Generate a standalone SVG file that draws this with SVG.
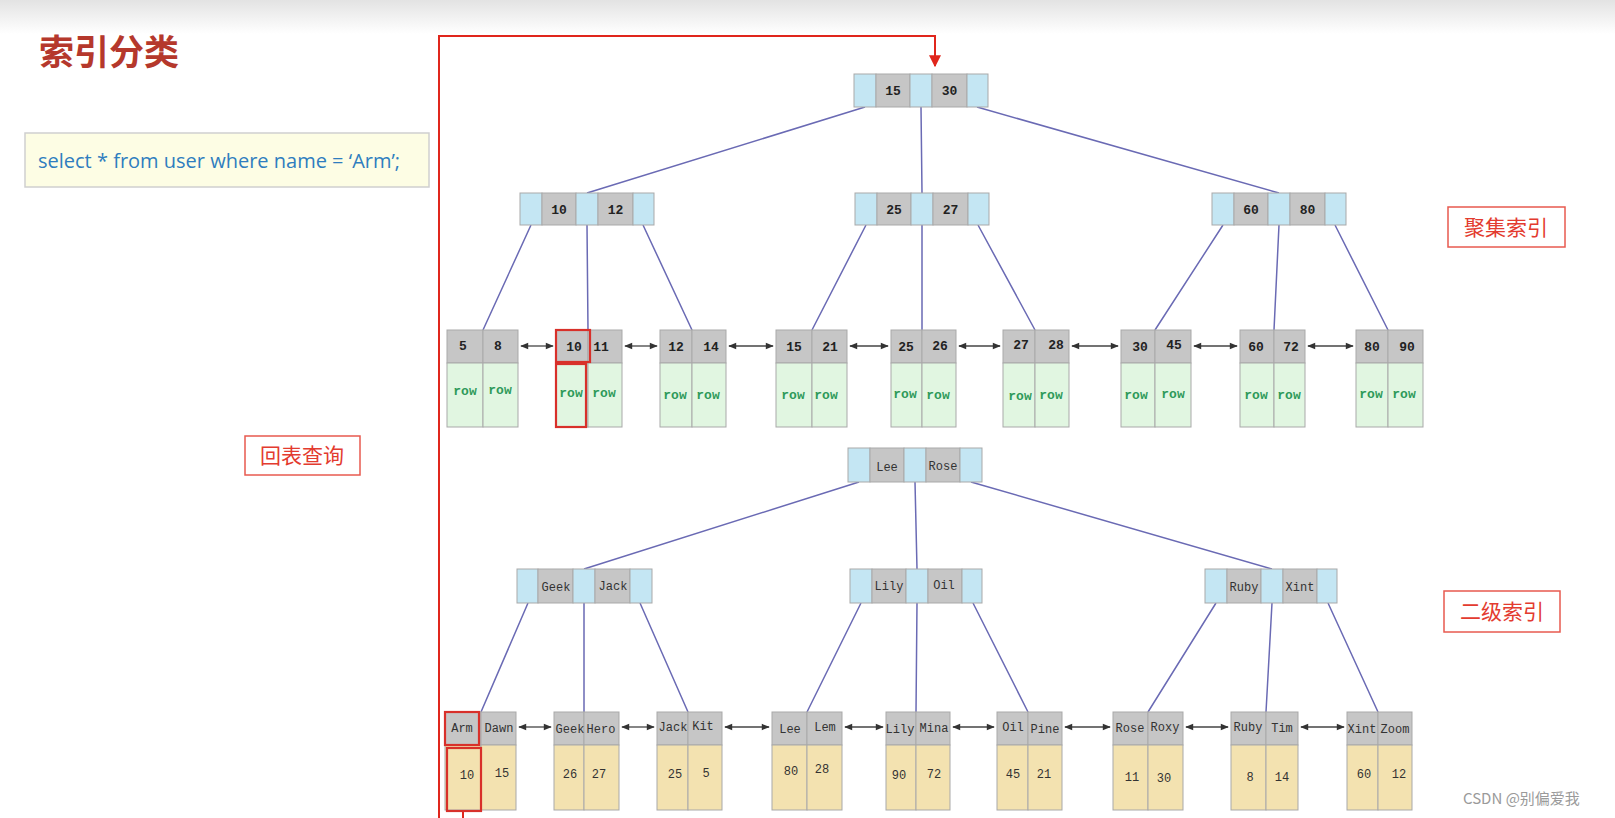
<svg xmlns="http://www.w3.org/2000/svg" width="1615" height="818" viewBox="0 0 1615 818">
<style>
.bl{fill:#c4e6f3;stroke:#a9a9a9;stroke-width:1}
.gr{fill:#c6c6c6;stroke:#a9a9a9;stroke-width:1}
.gn{fill:#e1f6e1;stroke:#a9a9a9;stroke-width:1}
.yl{fill:#f3e2b0;stroke:#a9a9a9;stroke-width:1}
.num{font-family:"Liberation Mono",monospace;font-weight:bold;font-size:13px;fill:#222;text-anchor:middle}
.row{font-family:"Liberation Mono",monospace;font-weight:bold;font-size:13px;fill:#2e9a5a;text-anchor:middle}
.nm{font-family:"Liberation Mono",monospace;font-size:12px;fill:#333;text-anchor:middle}
.val{font-family:"Liberation Mono",monospace;font-size:12px;fill:#333;text-anchor:middle}
.lk{stroke:#6a6ab4;stroke-width:1.5;fill:none}
.ar{stroke:#444;stroke-width:1.3;fill:none;marker-start:url(#ah);marker-end:url(#ah)}
.hl{fill:none;stroke:#d8302a;stroke-width:2.2}
.lab{fill:#fff;stroke:#e85a4f;stroke-width:1.5}
.labt{font-family:"Noto Sans CJK SC",sans-serif;font-size:21px;fill:#e33b2f;text-anchor:middle}
</style>
<defs>
<linearGradient id="topg" x1="0" y1="0" x2="0" y2="1">
<stop offset="0" stop-color="#e3e3e3"/>
<stop offset="1" stop-color="#ffffff"/>
</linearGradient>
<marker id="ah" viewBox="0 0 10 10" refX="9" refY="5" markerWidth="9" markerHeight="8" markerUnits="userSpaceOnUse" orient="auto-start-reverse">
<path d="M0,1 L10,5 L0,9 Z" fill="#333"/>
</marker>
<marker id="rah" viewBox="0 0 10 10" refX="9" refY="5" markerWidth="12" markerHeight="12" markerUnits="userSpaceOnUse" orient="auto">
<path d="M0,0 L10,5 L0,10 Z" fill="#e0261c"/>
</marker>
</defs>
<rect x="0" y="0" width="1615" height="818" fill="#ffffff"/>
<rect x="0" y="0" width="1615" height="34" fill="url(#topg)"/>

<g id="title">
<text x="39" y="65" font-family="Noto Sans CJK SC, sans-serif" font-weight="bold" font-size="35" fill="#b5382c">索引分类</text>
</g>

<g id="sql">
<rect x="25" y="133" width="404" height="54" fill="#fdfde4" stroke="#cfcfcf" stroke-width="1.5"/>
<text x="38" y="168" font-family="Open Sans, sans-serif" font-size="20" fill="#2f7dbf">select * from user where name = ‘Arm’;</text>
</g>

<g id="label-cluster">
<rect class="lab" x="1448" y="207" width="117" height="40"/>
<text class="labt" x="1506" y="235">聚集索引</text>
</g>
<g id="label-secondary">
<rect class="lab" x="1444" y="591" width="116" height="41"/>
<text class="labt" x="1502" y="619">二级索引</text>
</g>
<g id="label-lookup">
<rect class="lab" x="245" y="436" width="115" height="39"/>
<text class="labt" x="302" y="463">回表查询</text>
</g>

<g id="connectors">
<path class="lk" d="M865,107 L587,193 M921,107 L922,193 M977,107 L1279,193"/>
<path class="lk" d="M531,225 L483,330 M587,225 L588,330 M643,225 L692,330"/>
<path class="lk" d="M866,225 L812,330 M922,225 L922,330 M978,225 L1035,330"/>
<path class="lk" d="M1223,225 L1155,330 M1279,225 L1274,330 M1335,225 L1388,330"/>
<path class="lk" d="M859,482 L584,569 M915,482 L917,569 M971,482 L1272,569"/>
<path class="lk" d="M528,603 L481,712 M584,603 L584,712 M640,603 L688,712"/>
<path class="lk" d="M861,603 L807,712 M917,603 L916,712 M973,603 L1028,712"/>
<path class="lk" d="M1216,603 L1148,712 M1272,603 L1266,712 M1328,603 L1378,712"/>
<line class="ar" x1="521" y1="346" x2="553" y2="346"/>
<line class="ar" x1="625" y1="346" x2="657" y2="346"/>
<line class="ar" x1="729" y1="346" x2="773" y2="346"/>
<line class="ar" x1="850" y1="346" x2="888" y2="346"/>
<line class="ar" x1="959" y1="346" x2="1000" y2="346"/>
<line class="ar" x1="1072" y1="346" x2="1118" y2="346"/>
<line class="ar" x1="1194" y1="346" x2="1237" y2="346"/>
<line class="ar" x1="1308" y1="346" x2="1353" y2="346"/>
<line class="ar" x1="519" y1="727" x2="551" y2="727"/>
<line class="ar" x1="622" y1="727" x2="654" y2="727"/>
<line class="ar" x1="725" y1="727" x2="769" y2="727"/>
<line class="ar" x1="845" y1="727" x2="883" y2="727"/>
<line class="ar" x1="953" y1="727" x2="994" y2="727"/>
<line class="ar" x1="1065" y1="727" x2="1110" y2="727"/>
<line class="ar" x1="1186" y1="727" x2="1228" y2="727"/>
<line class="ar" x1="1301" y1="727" x2="1344" y2="727"/>
<path d="M439,818 L439,36 L935,36 L935,66" fill="none" stroke="#e0261c" stroke-width="2" marker-end="url(#rah)"/>
<line x1="463" y1="811" x2="463" y2="818" stroke="#e0261c" stroke-width="2"/>
</g>

<g id="c-root">
<rect class="bl" x="854" y="74" width="22" height="33"/><rect class="gr" x="876" y="74" width="34" height="33"/><rect class="bl" x="910" y="74" width="22" height="33"/><rect class="gr" x="932" y="74" width="35" height="33"/><rect class="bl" x="967" y="74" width="21" height="33"/>
<text class="num" x="893" y="95">15</text><text class="num" x="949.5" y="95">30</text>
</g>
<g id="c-n1">
<rect class="bl" x="520" y="193" width="22" height="32"/><rect class="gr" x="542" y="193" width="34" height="32"/><rect class="bl" x="576" y="193" width="22" height="32"/><rect class="gr" x="598" y="193" width="35" height="32"/><rect class="bl" x="633" y="193" width="21" height="32"/>
<text class="num" x="559" y="214">10</text><text class="num" x="615.5" y="214">12</text>
</g>
<g id="c-n2">
<rect class="bl" x="855" y="193" width="22" height="32"/><rect class="gr" x="877" y="193" width="34" height="32"/><rect class="bl" x="911" y="193" width="22" height="32"/><rect class="gr" x="933" y="193" width="35" height="32"/><rect class="bl" x="968" y="193" width="21" height="32"/>
<text class="num" x="894" y="214">25</text><text class="num" x="950.5" y="214">27</text>
</g>
<g id="c-n3">
<rect class="bl" x="1212" y="193" width="22" height="32"/><rect class="gr" x="1234" y="193" width="34" height="32"/><rect class="bl" x="1268" y="193" width="22" height="32"/><rect class="gr" x="1290" y="193" width="35" height="32"/><rect class="bl" x="1325" y="193" width="21" height="32"/>
<text class="num" x="1251" y="214">60</text><text class="num" x="1307.5" y="214">80</text>
</g>

<g id="c-l1">
<rect class="gr" x="447" y="330" width="36" height="33"/><rect class="gr" x="483" y="330" width="35" height="33"/>
<rect class="gn" x="447" y="363" width="36" height="64"/><rect class="gn" x="483" y="363" width="35" height="64"/>
<text class="num" x="463" y="350">5</text><text class="num" x="498" y="350">8</text>
<text class="row" x="465" y="395">row</text><text class="row" x="500" y="394">row</text>
</g>
<g id="c-l2">
<rect class="gr" x="556" y="330" width="32" height="33"/><rect class="gr" x="588" y="330" width="34" height="33"/>
<rect class="gn" x="556" y="363" width="32" height="64"/><rect class="gn" x="588" y="363" width="34" height="64"/>
<text class="num" x="574" y="351">10</text><text class="num" x="601" y="351">11</text>
<text class="row" x="571" y="397">row</text><text class="row" x="604" y="397">row</text>
<rect class="hl" x="556" y="330" width="34" height="32"/>
<rect class="hl" x="556" y="364" width="30" height="63"/>
</g>
<g id="c-l3">
<rect class="gr" x="660" y="330" width="32" height="33"/><rect class="gr" x="692" y="330" width="34" height="33"/>
<rect class="gn" x="660" y="363" width="32" height="64"/><rect class="gn" x="692" y="363" width="34" height="64"/>
<text class="num" x="676" y="351">12</text><text class="num" x="711" y="351">14</text>
<text class="row" x="675" y="399">row</text><text class="row" x="708" y="399">row</text>
</g>
<g id="c-l4">
<rect class="gr" x="776" y="330" width="36" height="33"/><rect class="gr" x="812" y="330" width="35" height="33"/>
<rect class="gn" x="776" y="363" width="36" height="64"/><rect class="gn" x="812" y="363" width="35" height="64"/>
<text class="num" x="794" y="351">15</text><text class="num" x="830" y="351">21</text>
<text class="row" x="793" y="399">row</text><text class="row" x="826" y="399">row</text>
</g>
<g id="c-l5">
<rect class="gr" x="891" y="330" width="31" height="33"/><rect class="gr" x="922" y="330" width="34" height="33"/>
<rect class="gn" x="891" y="363" width="31" height="64"/><rect class="gn" x="922" y="363" width="34" height="64"/>
<text class="num" x="906" y="351">25</text><text class="num" x="940" y="350">26</text>
<text class="row" x="905" y="398">row</text><text class="row" x="938" y="399">row</text>
</g>
<g id="c-l6">
<rect class="gr" x="1003" y="330" width="32" height="33"/><rect class="gr" x="1035" y="330" width="34" height="33"/>
<rect class="gn" x="1003" y="363" width="32" height="64"/><rect class="gn" x="1035" y="363" width="34" height="64"/>
<text class="num" x="1021" y="349">27</text><text class="num" x="1056" y="349">28</text>
<text class="row" x="1020" y="400">row</text><text class="row" x="1051" y="399">row</text>
</g>
<g id="c-l7">
<rect class="gr" x="1121" y="330" width="34" height="33"/><rect class="gr" x="1155" y="330" width="36" height="33"/>
<rect class="gn" x="1121" y="363" width="34" height="64"/><rect class="gn" x="1155" y="363" width="36" height="64"/>
<text class="num" x="1140" y="351">30</text><text class="num" x="1174" y="349">45</text>
<text class="row" x="1136" y="399">row</text><text class="row" x="1173" y="398">row</text>
</g>
<g id="c-l8">
<rect class="gr" x="1240" y="330" width="34" height="33"/><rect class="gr" x="1274" y="330" width="31" height="33"/>
<rect class="gn" x="1240" y="363" width="34" height="64"/><rect class="gn" x="1274" y="363" width="31" height="64"/>
<text class="num" x="1256" y="351">60</text><text class="num" x="1291" y="351">72</text>
<text class="row" x="1256" y="399">row</text><text class="row" x="1289" y="399">row</text>
</g>
<g id="c-l9">
<rect class="gr" x="1356" y="330" width="32" height="33"/><rect class="gr" x="1388" y="330" width="35" height="33"/>
<rect class="gn" x="1356" y="363" width="32" height="64"/><rect class="gn" x="1388" y="363" width="35" height="64"/>
<text class="num" x="1372" y="351">80</text><text class="num" x="1407" y="351">90</text>
<text class="row" x="1371" y="398">row</text><text class="row" x="1404" y="398">row</text>
</g>

<g id="s-root">
<rect class="bl" x="848" y="448" width="22" height="34"/><rect class="gr" x="870" y="448" width="34" height="34"/><rect class="bl" x="904" y="448" width="22" height="34"/><rect class="gr" x="926" y="448" width="34" height="34"/><rect class="bl" x="960" y="448" width="22" height="34"/>
<text class="nm" x="887" y="471">Lee</text><text class="nm" x="943" y="470">Rose</text>
</g>
<g id="s-n1">
<rect class="bl" x="517" y="569" width="21" height="34"/><rect class="gr" x="538" y="569" width="35" height="34"/><rect class="bl" x="573" y="569" width="22" height="34"/><rect class="gr" x="595" y="569" width="35" height="34"/><rect class="bl" x="630" y="569" width="22" height="34"/>
<text class="nm" x="556" y="591">Geek</text><text class="nm" x="613" y="590">Jack</text>
</g>
<g id="s-n2">
<rect class="bl" x="850" y="569" width="22" height="34"/><rect class="gr" x="872" y="569" width="34" height="34"/><rect class="bl" x="906" y="569" width="22" height="34"/><rect class="gr" x="928" y="569" width="34" height="34"/><rect class="bl" x="962" y="569" width="20" height="34"/>
<text class="nm" x="889" y="590">Lily</text><text class="nm" x="944" y="589">Oil</text>
</g>
<g id="s-n3">
<rect class="bl" x="1205" y="569" width="22" height="34"/><rect class="gr" x="1227" y="569" width="34" height="34"/><rect class="bl" x="1261" y="569" width="22" height="34"/><rect class="gr" x="1283" y="569" width="34" height="34"/><rect class="bl" x="1317" y="569" width="20" height="34"/>
<text class="nm" x="1244" y="591">Ruby</text><text class="nm" x="1300" y="591">Xint</text>
</g>

<g id="s-l1">
<rect class="gr" x="445" y="712" width="36" height="33"/><rect class="gr" x="481" y="712" width="35" height="33"/>
<rect class="yl" x="445" y="745" width="36" height="65"/><rect class="yl" x="481" y="745" width="35" height="65"/>
<text class="nm" x="462" y="732">Arm</text><text class="nm" x="499" y="732">Dawn</text>
<text class="val" x="467" y="779">10</text><text class="val" x="502" y="777">15</text>
<rect class="hl" x="445" y="712" width="34" height="33"/>
<rect class="hl" x="447" y="748" width="34" height="63"/>
</g>
<g id="s-l2">
<rect class="gr" x="554" y="712" width="30" height="33"/><rect class="gr" x="584" y="712" width="35" height="33"/>
<rect class="yl" x="554" y="745" width="30" height="65"/><rect class="yl" x="584" y="745" width="35" height="65"/>
<text class="nm" x="570" y="733">Geek</text><text class="nm" x="601" y="733">Hero</text>
<text class="val" x="570" y="778">26</text><text class="val" x="599" y="778">27</text>
</g>
<g id="s-l3">
<rect class="gr" x="657" y="712" width="31" height="33"/><rect class="gr" x="688" y="712" width="34" height="33"/>
<rect class="yl" x="657" y="745" width="31" height="65"/><rect class="yl" x="688" y="745" width="34" height="65"/>
<text class="nm" x="673" y="731">Jack</text><text class="nm" x="703" y="730">Kit</text>
<text class="val" x="675" y="778">25</text><text class="val" x="706" y="777">5</text>
</g>
<g id="s-l4">
<rect class="gr" x="772" y="712" width="35" height="33"/><rect class="gr" x="807" y="712" width="35" height="33"/>
<rect class="yl" x="772" y="745" width="35" height="65"/><rect class="yl" x="807" y="745" width="35" height="65"/>
<text class="nm" x="790" y="733">Lee</text><text class="nm" x="825" y="731">Lem</text>
<text class="val" x="791" y="775">80</text><text class="val" x="822" y="773">28</text>
</g>
<g id="s-l5">
<rect class="gr" x="886" y="712" width="30" height="33"/><rect class="gr" x="916" y="712" width="34" height="33"/>
<rect class="yl" x="886" y="745" width="30" height="65"/><rect class="yl" x="916" y="745" width="34" height="65"/>
<text class="nm" x="900" y="733">Lily</text><text class="nm" x="934" y="732">Mina</text>
<text class="val" x="899" y="779">90</text><text class="val" x="934" y="778">72</text>
</g>
<g id="s-l6">
<rect class="gr" x="997" y="712" width="31" height="33"/><rect class="gr" x="1028" y="712" width="34" height="33"/>
<rect class="yl" x="997" y="745" width="31" height="65"/><rect class="yl" x="1028" y="745" width="34" height="65"/>
<text class="nm" x="1013" y="731">Oil</text><text class="nm" x="1045" y="733">Pine</text>
<text class="val" x="1013" y="778">45</text><text class="val" x="1044" y="778">21</text>
</g>
<g id="s-l7">
<rect class="gr" x="1113" y="712" width="35" height="33"/><rect class="gr" x="1148" y="712" width="35" height="33"/>
<rect class="yl" x="1113" y="745" width="35" height="65"/><rect class="yl" x="1148" y="745" width="35" height="65"/>
<text class="nm" x="1130" y="732">Rose</text><text class="nm" x="1165" y="731">Roxy</text>
<text class="val" x="1132" y="781">11</text><text class="val" x="1164" y="782">30</text>
</g>
<g id="s-l8">
<rect class="gr" x="1231" y="712" width="35" height="33"/><rect class="gr" x="1266" y="712" width="32" height="33"/>
<rect class="yl" x="1231" y="745" width="35" height="65"/><rect class="yl" x="1266" y="745" width="32" height="65"/>
<text class="nm" x="1248" y="731">Ruby</text><text class="nm" x="1282" y="732">Tim</text>
<text class="val" x="1250" y="781">8</text><text class="val" x="1282" y="781">14</text>
</g>
<g id="s-l9">
<rect class="gr" x="1347" y="712" width="31" height="33"/><rect class="gr" x="1378" y="712" width="34" height="33"/>
<rect class="yl" x="1347" y="745" width="31" height="65"/><rect class="yl" x="1378" y="745" width="34" height="65"/>
<text class="nm" x="1362" y="733">Xint</text><text class="nm" x="1395" y="733">Zoom</text>
<text class="val" x="1364" y="778">60</text><text class="val" x="1399" y="778">12</text>
</g>

<g id="watermark">
<text x="1463" y="804" font-family="Noto Sans CJK SC, sans-serif" font-size="15" fill="#9a9a9a">CSDN @别偏爱我</text>
</g>
</svg>
